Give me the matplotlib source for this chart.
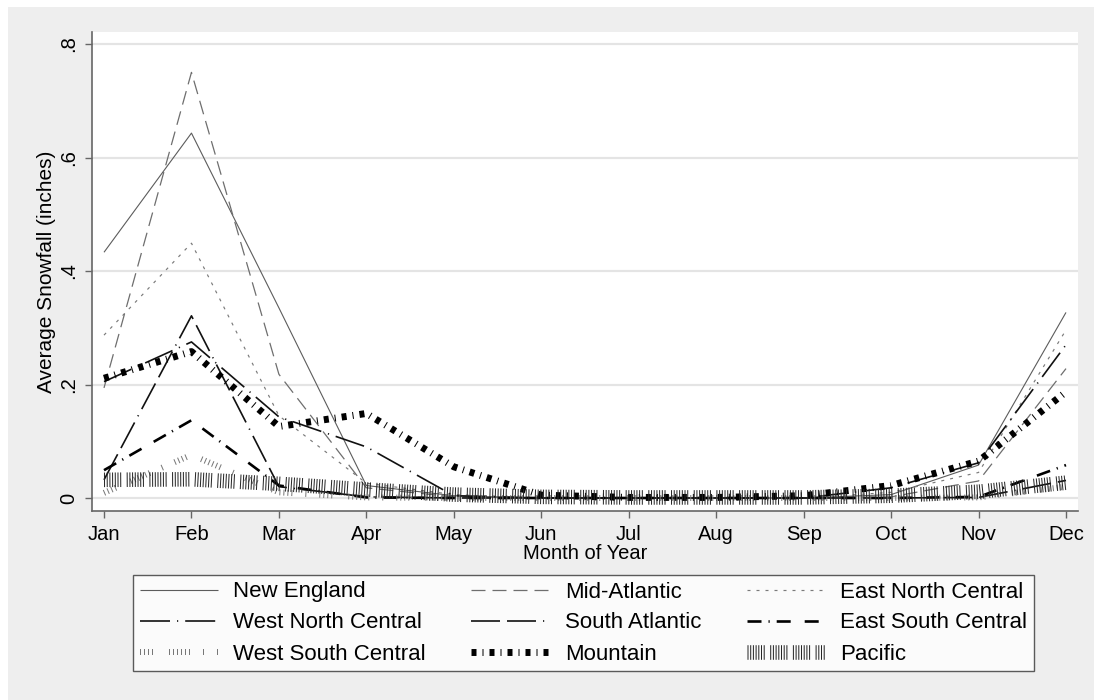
import matplotlib

matplotlib.use("Agg")
import matplotlib.pyplot as plt  # noqa: E402
from matplotlib.patches import Rectangle  # noqa: E402

plt.rcParams["font.family"] = ["Liberation Sans", "DejaVu Sans"]
plt.rcParams["lines.scale_dashes"] = False

# ---------------------------------------------------------------------------
# Data (average snowfall, inches, by month).
# ---------------------------------------------------------------------------
months = ["Jan", "Feb", "Mar", "Apr", "May", "Jun",
          "Jul", "Aug", "Sep", "Oct", "Nov", "Dec"]
month_num = list(range(1, 13))

new_england = [0.433, 0.643, 0.335, 0.022, 0.004, 0.0, 0.0, 0.0, 0.0, 0.006, 0.058, 0.327]
mid_atlantic = [0.194, 0.750, 0.218, 0.018, 0.002, 0.0, 0.0, 0.0, 0.0, 0.002, 0.030, 0.228]
east_north_central = [0.287, 0.449, 0.145, 0.026, 0.006, 0.0, 0.0, 0.0, 0.0, 0.010, 0.045, 0.296]
west_north_central = [0.205, 0.275, 0.143, 0.090, 0.004, 0.0, 0.0, 0.0, 0.0, 0.018, 0.062, 0.270]
south_atlantic = [0.032, 0.321, 0.020, 0.002, 0.0, 0.0, 0.0, 0.0, 0.0, 0.0, 0.001, 0.031]
east_south_central = [0.049, 0.137, 0.022, 0.001, 0.0, 0.0, 0.0, 0.0, 0.0, 0.0, 0.002, 0.058]
west_south_central = [0.009, 0.076, 0.010, 0.001, 0.0, 0.0, 0.0, 0.0, 0.0, 0.0, 0.001, 0.020]
mountain = [0.211, 0.258, 0.126, 0.149, 0.055, 0.005, 0.001, 0.001, 0.004, 0.022, 0.065, 0.187]
pacific = [0.032, 0.033, 0.025, 0.015, 0.006, 0.002, 0.001, 0.001, 0.001, 0.004, 0.011, 0.027]

y_ticks = [0, 0.2, 0.4, 0.6, 0.8]
y_tick_labels = ["0", ".2", ".4", ".6", ".8"]


def px(*vals):
    # dash lengths measured in pixels -> points (dpi 100)
    return [v * 0.72 for v in vals]


# Stata-ish line patterns, in draw order.
series = [
    ("New England", new_england, dict(color="#5c5c5c", lw=0.8, ls="-")),
    ("Mid-Atlantic", mid_atlantic, dict(color="#6e6e6e", lw=0.9, ls=(0, px(14, 7)))),
    ("East North Central", east_north_central, dict(color="#7a7a7a", lw=0.85, ls=(0, px(3, 6)))),
    ("West North Central", west_north_central, dict(color="#111111", lw=1.2, ls=(0, px(30, 7, 1.2, 7)))),
    ("South Atlantic", south_atlantic, dict(color="#111111", lw=1.2, ls=(0, px(29, 7, 29, 7, 1.2, 7)))),
    ("East South Central", east_south_central, dict(color="#000000", lw=1.9, ls=(0, px(14, 7, 1.2, 7, 14, 14)))),
    ("West South Central", west_south_central, dict(
        color="#777777", lw=4.3,
        ls=(0, px(1, 3, 1, 3, 1, 3, 1, 16, 1, 3, 1, 3, 1, 3, 1, 3, 1, 3, 1, 13, 1, 13)))),
    ("Mountain", mountain, dict(color="#000000", lw=5.0, ls=(0, px(5, 6, 1, 6)))),
    ("Pacific", pacific, dict(color="#262626", lw=10.5,
                              ls=(0, px(1, 1.7, 1, 1.7, 1, 1.7, 1, 1.7, 1, 1.7, 1, 1.7, 1, 5.5)))),
]

fig = plt.figure(figsize=(10.94, 7.0), dpi=100, facecolor="white")
# Light grey graph region, with a thin white strip top/left as in the source.
fig.patches.append(Rectangle((8 / 1094, 0), 1 - 8 / 1094, 1 - 7 / 700,
                             transform=fig.transFigure, facecolor="#eeeeee",
                             edgecolor="none", zorder=-10))

ax = fig.add_axes([92 / 1094, 1 - 511 / 700, (1078 - 92) / 1094, (511 - 32) / 700])
ax.set_facecolor("white")

lines = []
for label, vals, style in series:
    (ln,) = ax.plot(month_num, vals, label=label, solid_capstyle="butt",
                    dash_capstyle="butt", **style)
    lines.append(ln)

ax.set_xlim(1 - 12 / 87.4, 12 + 12 / 87.4)
ax.set_ylim(-13 / 567.5, 0.8 + 12 / 567.5)

ax.set_xticks(month_num)
ax.set_xticklabels(months, fontsize=14.5)
ax.set_yticks(y_ticks)
ax.set_yticklabels(y_tick_labels, fontsize=14.5, rotation=90, va="center")

ax.yaxis.grid(True, color="#e4e4e4", lw=1.6)
ax.set_axisbelow(True)
ax.tick_params(direction="out", length=5, width=1, color="#666666", pad=5)

for side in ("top", "right"):
    ax.spines[side].set_visible(False)
for side in ("left", "bottom"):
    ax.spines[side].set_color("#666666")
    ax.spines[side].set_linewidth(1.2)

ax.set_xlabel("Month of Year", fontsize=14.5, labelpad=0)
ax.set_ylabel("Average Snowfall (inches)", fontsize=15, labelpad=2)

# Legend fills row by row in the source; matplotlib fills by column.
order = [0, 3, 6, 1, 4, 7, 2, 5, 8]
leg = fig.legend([lines[i] for i in order], [series[i][0] for i in order],
                 loc="center", bbox_to_anchor=(583.5 / 1094, 1 - 623 / 700),
                 ncol=3, fontsize=16, frameon=True, fancybox=False,
                 handlelength=3.5, handletextpad=0.7, columnspacing=2.05,
                 labelspacing=0.45, borderpad=0.3)
leg.get_frame().set_edgecolor("#333333")
leg.get_frame().set_linewidth(1.0)
leg.get_frame().set_facecolor("white")

fig.savefig("out.png", dpi=100, facecolor="white")
plt.close(fig)
